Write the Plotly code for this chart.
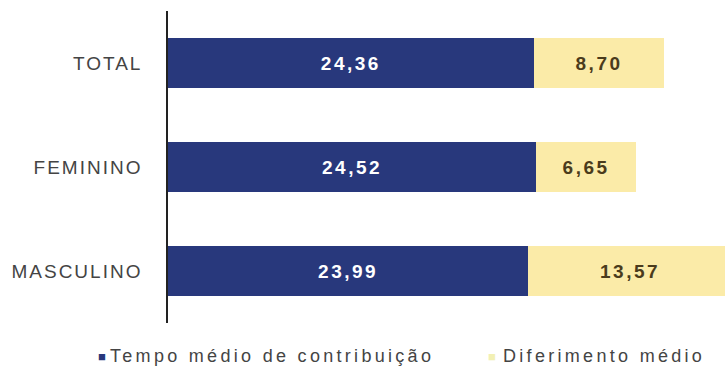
import plotly.graph_objects as go

# Categories listed bottom-to-top as drawn on the horizontal bar chart
categorias = ["MASCULINO", "FEMININO", "TOTAL"]
tempo_contribuicao = [23.99, 24.52, 24.36]
diferimento = [13.57, 6.65, 8.70]

serie_nomes = ["Tempo médio de contribuição", "Diferimento médio"]

AZUL = "#28387c"
AMARELO = "#fbeba8"
AMARELO_LEGENDA = "#f2f0b4"
FONTE = "Liberation Sans, Arial"


def fmt(v):
    return f"{v:.2f}".replace(".", ",")


def espacado(texto, ls):
    return f"<span style='letter-spacing:{ls}px'>{texto}</span>"


fig = go.Figure()
fig.add_trace(go.Bar(
    y=categorias, x=tempo_contribuicao, orientation="h",
    name=serie_nomes[0], marker=dict(color=AZUL, line=dict(width=0)),
    text=[espacado(fmt(v), 2.5) for v in tempo_contribuicao], textposition="inside",
    insidetextanchor="middle",
    textfont=dict(family=FONTE, size=19, color="white", weight="bold"),
    width=0.48,
))
fig.add_trace(go.Bar(
    y=categorias, x=diferimento, orientation="h",
    name=serie_nomes[1], marker=dict(color=AMARELO, line=dict(width=0)),
    text=[espacado(fmt(v), 2.5) for v in diferimento], textposition="inside",
    insidetextanchor="middle",
    textfont=dict(family=FONTE, size=19, color="#4a3b1c", weight="bold"),
    width=0.48,
))

fig.update_layout(
    barmode="stack",
    width=725, height=375,
    margin=dict(l=168, r=0, t=11, b=52),
    paper_bgcolor="white", plot_bgcolor="white",
    showlegend=False,
    uniformtext=dict(mode="show", minsize=10),
    xaxis=dict(range=[0, 37.1], visible=False, fixedrange=True, automargin=False),
    yaxis=dict(
        range=[-0.5, 2.5], showline=True, linecolor="#222", linewidth=1.5,
        showgrid=False, ticks="", ticklabelstandoff=20, automargin=False,
        tickvals=categorias, ticktext=[espacado(c, 2) for c in categorias],
        tickfont=dict(family=FONTE, size=19, color="#444"),
    ),
    font=dict(family=FONTE),
)

# Legend drawn as paper annotations below the plot area
ly = -0.106
for xpos, cor in [(-0.1275, AZUL), (0.5735, AMARELO_LEGENDA)]:
    fig.add_annotation(
        xref="paper", yref="paper", x=xpos, y=ly, xanchor="left", yanchor="middle",
        text="■", showarrow=False, font=dict(size=13, color=cor), borderpad=0,
    )
for xpos, nome in [(-0.1055, serie_nomes[0]), (0.6, serie_nomes[1])]:
    fig.add_annotation(
        xref="paper", yref="paper", x=xpos, y=ly, xanchor="left", yanchor="middle",
        text=espacado(nome, 3.3), showarrow=False,
        font=dict(family=FONTE, size=18, color="#444"), borderpad=0,
    )

fig.write_html("out.html")
